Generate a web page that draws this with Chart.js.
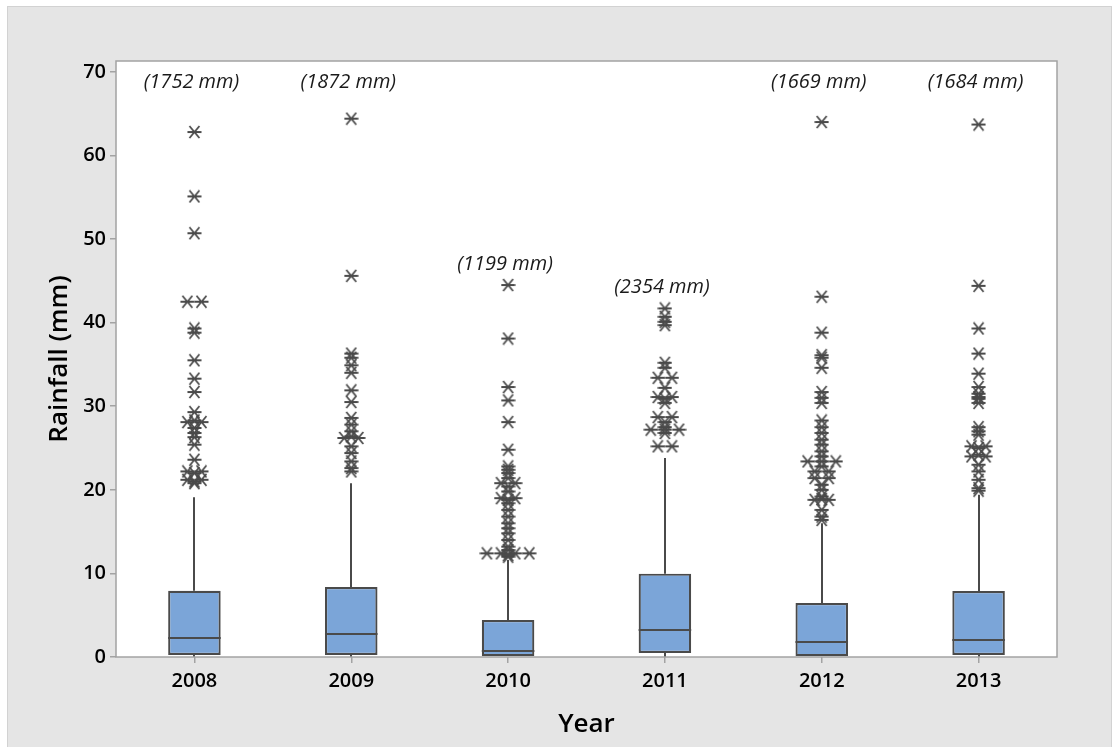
<!DOCTYPE html>
<html><head><meta charset="utf-8">
<script src="https://cdn.jsdelivr.net/npm/chart.js@4.4.0/dist/chart.umd.min.js"></script>
<style>html,body{margin:0;padding:0;background:#fff;overflow:hidden}#wrap{width:1118px;height:747px;position:relative}</style>
</head><body><div id="wrap"><canvas id="c" width="1118" height="747"></canvas></div>
<script>
const years = ['2008','2009','2010','2011','2012','2013'];
const q1 = [0.24, 0.24, 0.0, 0.48, 0.0, 0.24];
const median = [2.31, 2.79, 0.72, 3.27, 1.83, 2.07];
const q3 = [7.93, 8.37, 4.43, 9.97, 6.46, 7.90];
const whiskerLow = [0, 0, 0, 0, 0, 0];
const whiskerHigh = [19.1, 20.8, 11.6, 23.8, 16.0, 19.4];
const totals = ['(1752 mm)', '(1872 mm)', '(1199 mm)', '(2354 mm)', '(1669 mm)', '(1684 mm)'];

const out2008 = [62.8, 55.1, 50.7, 42.5, 42.5, 39.3, 38.8, 35.5, 33.3, 31.7, 29.3, 28.1, 28.1, 28.3, 27.4, 26.8, 26.3, 25.4, 23.6, 22.2, 22.2, 22.0, 21.2, 21.2, 21.0, 20.8];
const out2009 = [64.4, 45.6, 36.3, 35.8, 34.9, 34.0, 31.9, 30.5, 28.6, 27.8, 27.0, 26.2, 26.2, 26.4, 25.2, 24.4, 23.4, 22.6, 22.2];
const out2010 = [44.5, 38.1, 32.3, 30.7, 28.1, 24.8, 22.8, 22.4, 22.0, 21.4, 20.8, 20.8, 20.4, 19.8, 19.0, 19.0, 18.8, 18.4, 17.6, 16.8, 16.0, 15.4, 14.8, 14.0, 13.2, 12.8, 12.4, 12.4, 12.4, 12.4, 12.2, 12.0];
const out2011 = [41.7, 40.7, 40.1, 39.7, 35.2, 34.6, 33.4, 33.4, 32.2, 31.1, 31.1, 30.9, 30.4, 28.7, 28.7, 28.1, 27.5, 27.2, 27.2, 27.2, 26.8, 25.2, 25.2];
const out2012 = [64.0, 43.1, 38.8, 36.1, 35.8, 34.6, 31.7, 31.0, 30.4, 28.3, 27.5, 26.8, 26.0, 25.4, 24.6, 24.0, 23.4, 23.4, 23.4, 22.8, 22.2, 22.2, 21.4, 21.4, 20.6, 20.0, 19.2, 18.8, 18.8, 18.9, 17.6, 16.8, 16.4];
const out2013 = [63.7, 44.4, 39.3, 36.3, 33.9, 32.3, 31.5, 31.1, 30.9, 30.4, 27.5, 27.0, 26.6, 25.2, 25.2, 25.0, 24.0, 24.0, 24.2, 23.0, 22.2, 21.2, 20.2, 19.9];
const outliers = [out2008, out2009, out2010, out2011, out2012, out2013];

// Minitab-like jitter for tied values
const JIT = 0.09;
const outPoints = [];
outliers.forEach((arr, i) => {
  const groups = {};
  arr.forEach(v => { (groups[v] = groups[v] || []).push(v); });
  Object.keys(groups).forEach(k => {
    const g = groups[k], n = g.length;
    g.forEach((v, j) => outPoints.push({x: i + (j - (n - 1) / 2) * JIT, y: v}));
  });
});
const maxOut = outliers.map(a => Math.max(...a));
const labelY = maxOut.map(m => m > 50 ? 68.7 : m + 2.5);

function makeStar() {
  const c = document.createElement('canvas'); c.width = 15; c.height = 14;
  const g = c.getContext('2d'); g.strokeStyle = '#4a4a4a'; g.lineWidth = 1.8;
  g.beginPath();
  g.moveTo(0.5, 7); g.lineTo(14.5, 7);
  g.moveTo(2.5, 1); g.lineTo(12.5, 13);
  g.moveTo(2.5, 13); g.lineTo(12.5, 1);
  g.stroke();
  return c;
}
const star = makeStar();

const bgPlugin = {
  id: 'bg',
  beforeDraw(chart) {
    const {ctx, chartArea: a} = chart;
    ctx.save();
    ctx.fillStyle = '#ffffff'; ctx.fillRect(0, 0, chart.width, chart.height);
    ctx.fillStyle = '#e5e5e5'; ctx.fillRect(7, 6, 1105, 741);
    ctx.strokeStyle = '#d2d2d2'; ctx.lineWidth = 1; ctx.strokeRect(7.5, 6.5, 1104, 745);
    ctx.fillStyle = '#ffffff'; ctx.fillRect(a.left, a.top, a.right - a.left, a.bottom - a.top);
    ctx.restore();
  },
  beforeDatasetsDraw(chart) {
    const {ctx, scales: {x, y}} = chart;
    ctx.save();
    ctx.strokeStyle = '#4a4a4a'; ctx.lineWidth = 2;
    years.forEach((_, i) => {
      const px = Math.round(x.getPixelForValue(i));
      ctx.beginPath();
      ctx.moveTo(px, y.getPixelForValue(q3[i])); ctx.lineTo(px, y.getPixelForValue(whiskerHigh[i]));
      ctx.moveTo(px, y.getPixelForValue(q1[i])); ctx.lineTo(px, y.getPixelForValue(whiskerLow[i]));
      ctx.stroke();
    });
    ctx.restore();
  },
  afterDatasetsDraw(chart) {
    const {ctx, scales: {x, y}, chartArea: a} = chart;
    const meta = chart.getDatasetMeta(0);
    ctx.save();
    ctx.strokeStyle = '#4a4a4a'; ctx.lineWidth = 2;
    years.forEach((_, i) => {
      const bar = meta.data[i];
      const py = Math.round(y.getPixelForValue(median[i]));
      ctx.beginPath();
      ctx.moveTo(bar.x - bar.width / 2, py); ctx.lineTo(bar.x + bar.width / 2, py);
      ctx.stroke();
    });
    ctx.fillStyle = '#1a1a1a';
    ctx.font = 'italic 20px "Open Sans", "Noto Sans", sans-serif';
    ctx.textAlign = 'center'; ctx.textBaseline = 'middle';
    years.forEach((_, i) => {
      ctx.fillText(totals[i], x.getPixelForValue(i) - 3, y.getPixelForValue(labelY[i]));
    });
    ctx.strokeStyle = '#a3a3a3'; ctx.lineWidth = 1.5;
    ctx.strokeRect(a.left, a.top, a.right - a.left, a.bottom - a.top);
    ctx.restore();
  }
};

const tickFont = {family: '"Open Sans", "Noto Sans", sans-serif', size: 20, weight: '600'};
const titleFont = {family: '"Open Sans", "Noto Sans", sans-serif', size: 26, weight: '600'};

new Chart(document.getElementById('c'), {
  type: 'bar',
  data: {
    datasets: [
      {
        type: 'bar',
        data: years.map((_, i) => ({x: i, y: [q1[i], q3[i]]})),
        backgroundColor: '#7ba5d8',
        borderColor: '#4a4a4a',
        borderWidth: 2.2,
        borderSkipped: false,
        barPercentage: 1,
        categoryPercentage: 0.335,
        order: 2
      },
      {
        type: 'scatter',
        data: outPoints,
        pointStyle: star,
        pointRadius: 6,
        order: 1
      }
    ]
  },
  options: {
    responsive: false,
    animation: false,
    devicePixelRatio: 1,
    layout: {padding: {left: 0, top: 61, right: 61, bottom: 0}},
    plugins: {legend: {display: false}, tooltip: {enabled: false}},
    scales: {
      x: {
        type: 'linear', min: -0.5, max: 5.5, offset: false,
        afterBuildTicks: s => { s.ticks = years.map((_, i) => ({value: i})); },
        afterFit: s => { s.height = 90; },
        ticks: {callback: v => years[Math.round(v)], color: '#000', font: tickFont, padding: 6, maxRotation: 0, autoSkip: false},
        grid: {offset: false, drawOnChartArea: false, drawTicks: true, tickLength: 6, color: '#a3a3a3', lineWidth: 1.5},
        border: {display: false},
        title: {display: true, text: 'Year', color: '#000', font: titleFont, padding: {top: 0, bottom: 7}}
      },
      y: {
        type: 'linear', min: 0, max: 71.3,
        afterBuildTicks: s => { s.ticks = [0, 10, 20, 30, 40, 50, 60, 70].map(v => ({value: v})); },
        afterFit: s => { s.width = 116; },
        ticks: {color: '#000', font: tickFont, padding: 4},
        grid: {drawOnChartArea: false, drawTicks: true, tickLength: 6, color: '#a3a3a3', lineWidth: 1.5},
        border: {display: false},
        title: {display: true, text: 'Rainfall (mm)', color: '#000', font: titleFont, padding: {top: 44, bottom: 0}}
      }
    }
  },
  plugins: [bgPlugin]
});
</script></body></html>
